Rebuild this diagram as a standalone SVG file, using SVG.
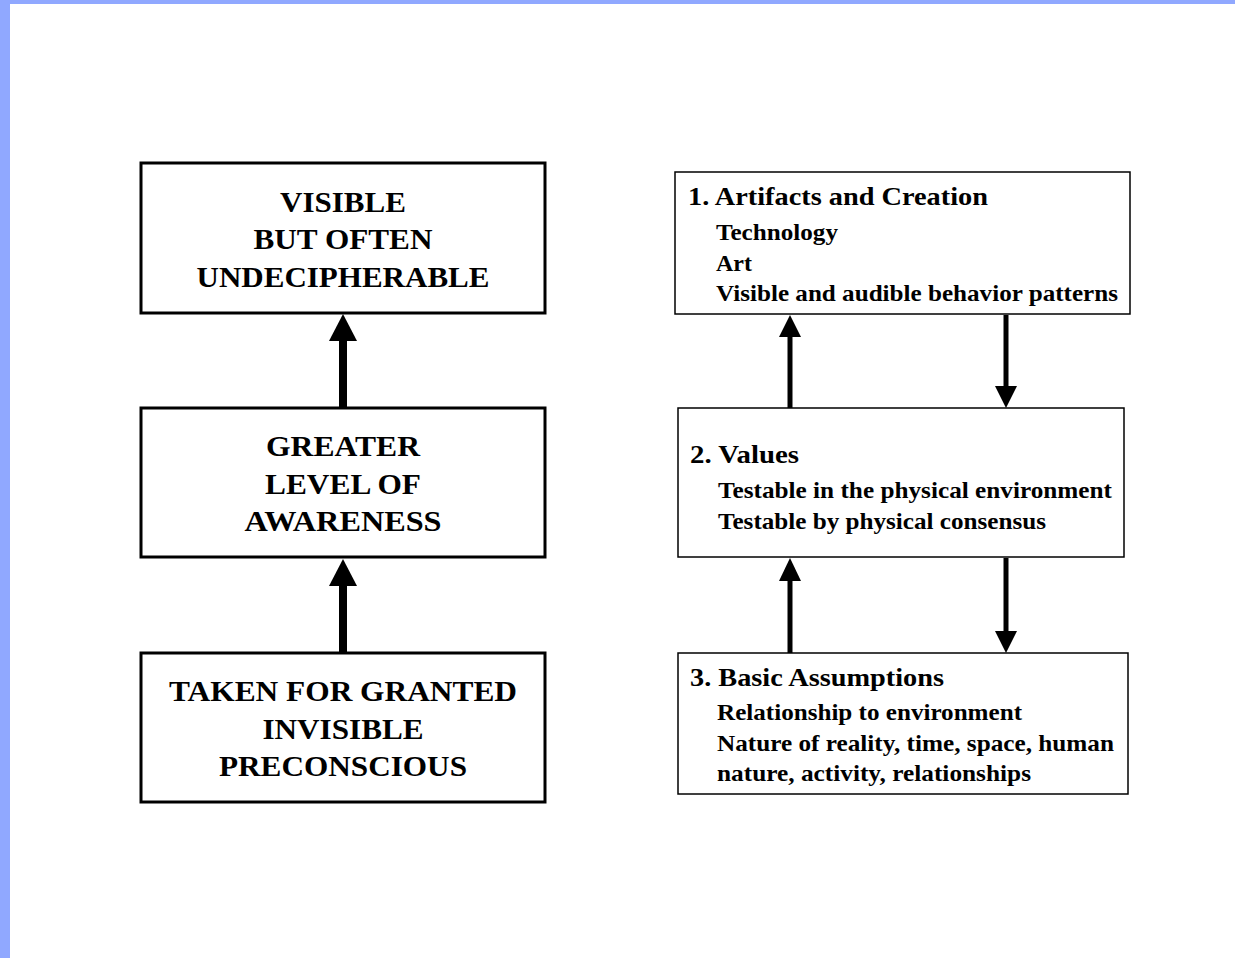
<svg xmlns="http://www.w3.org/2000/svg" width="1235" height="958" viewBox="0 0 1235 958">
  <style>
    .frame { fill: #90a8ff; }
    .bigbox { fill: #ffffff; stroke: #000000; stroke-width: 3; }
    .box { fill: #ffffff; stroke: #000000; stroke-width: 1.5; }
    .cap { font-family: "Liberation Serif", "Times New Roman", serif; font-weight: bold; font-size: 29px; fill: #000; text-anchor: middle; }
    .head { font-family: "Liberation Serif", "Times New Roman", serif; font-weight: bold; font-size: 26px; fill: #000; }
    .item { font-family: "Liberation Serif", "Times New Roman", serif; font-weight: bold; font-size: 23px; fill: #000; }
    .thick { stroke: #000; stroke-width: 8; fill: none; }
    .thin { stroke: #000; stroke-width: 5; fill: none; }
  </style>

  <!-- page background with blue frame on the left and top -->
  <rect x="0" y="0" width="1235" height="958" fill="#ffffff"/>
  <rect class="frame" x="0" y="0" width="10" height="958"/>
  <rect class="frame" x="0" y="0" width="1235" height="4"/>

  <!-- connectors -->
  <g id="connectors">
    <!-- left column: upward arrows -->
    <line class="thick" x1="343" y1="407" x2="343" y2="338"/>
    <path d="M329,341 L343,314 L357,341 Z" fill="#000"/>
    <line class="thick" x1="343" y1="652" x2="343" y2="583"/>
    <path d="M329,586 L343,559 L357,586 Z" fill="#000"/>

    <!-- right column: up and down arrows -->
    <line class="thin" x1="790" y1="408" x2="790" y2="334"/>
    <path d="M779,337 L790,315 L801,337 Z" fill="#000"/>
    <line class="thin" x1="1006" y1="315" x2="1006" y2="389"/>
    <path d="M995,386 L1006,408 L1017,386 Z" fill="#000"/>

    <line class="thin" x1="790" y1="653" x2="790" y2="578"/>
    <path d="M779,581 L790,558 L801,581 Z" fill="#000"/>
    <line class="thin" x1="1006" y1="558" x2="1006" y2="634"/>
    <path d="M995,631 L1006,653 L1017,631 Z" fill="#000"/>
  </g>

  <!-- left column -->
  <g id="visible">
    <rect class="bigbox" x="141" y="163" width="404" height="150"/>
    <text class="cap" x="343" y="212" textLength="126" lengthAdjust="spacingAndGlyphs">VISIBLE</text>
    <text class="cap" x="343" y="249" textLength="179" lengthAdjust="spacingAndGlyphs">BUT OFTEN</text>
    <text class="cap" x="343" y="287" textLength="293" lengthAdjust="spacingAndGlyphs">UNDECIPHERABLE</text>
  </g>
  <g id="awareness">
    <rect class="bigbox" x="141" y="408" width="404" height="149"/>
    <text class="cap" x="343" y="456" textLength="154" lengthAdjust="spacingAndGlyphs">GREATER</text>
    <text class="cap" x="343" y="494" textLength="156" lengthAdjust="spacingAndGlyphs">LEVEL OF</text>
    <text class="cap" x="343" y="531" textLength="197" lengthAdjust="spacingAndGlyphs">AWARENESS</text>
  </g>
  <g id="preconscious">
    <rect class="bigbox" x="141" y="653" width="404" height="149"/>
    <text class="cap" x="343" y="701" textLength="348" lengthAdjust="spacingAndGlyphs">TAKEN FOR GRANTED</text>
    <text class="cap" x="343" y="739" textLength="161" lengthAdjust="spacingAndGlyphs">INVISIBLE</text>
    <text class="cap" x="343" y="776" textLength="248" lengthAdjust="spacingAndGlyphs">PRECONSCIOUS</text>
  </g>

  <!-- right column -->
  <g id="artifacts">
    <rect class="box" x="675" y="172" width="455" height="142"/>
    <text class="head" x="688" y="205" textLength="300" lengthAdjust="spacingAndGlyphs">1. Artifacts and Creation</text>
    <text class="item" x="716" y="240" textLength="122" lengthAdjust="spacingAndGlyphs">Technology</text>
    <text class="item" x="716" y="271" textLength="36" lengthAdjust="spacingAndGlyphs">Art</text>
    <text class="item" x="716" y="301" textLength="402" lengthAdjust="spacingAndGlyphs">Visible and audible behavior patterns</text>
  </g>
  <g id="values">
    <rect class="box" x="678" y="408" width="446" height="149"/>
    <text class="head" x="690" y="463" textLength="109" lengthAdjust="spacingAndGlyphs">2. Values</text>
    <text class="item" x="718" y="498" textLength="394" lengthAdjust="spacingAndGlyphs">Testable in the physical environment</text>
    <text class="item" x="718" y="529" textLength="328" lengthAdjust="spacingAndGlyphs">Testable by physical consensus</text>
  </g>
  <g id="assumptions">
    <rect class="box" x="678" y="653" width="450" height="141"/>
    <text class="head" x="690" y="686" textLength="254" lengthAdjust="spacingAndGlyphs">3. Basic Assumptions</text>
    <text class="item" x="717" y="720" textLength="305" lengthAdjust="spacingAndGlyphs">Relationship to environment</text>
    <text class="item" x="717" y="751" textLength="397" lengthAdjust="spacingAndGlyphs">Nature of reality, time, space, human</text>
    <text class="item" x="717" y="781" textLength="314" lengthAdjust="spacingAndGlyphs">nature, activity, relationships</text>
  </g>
</svg>
